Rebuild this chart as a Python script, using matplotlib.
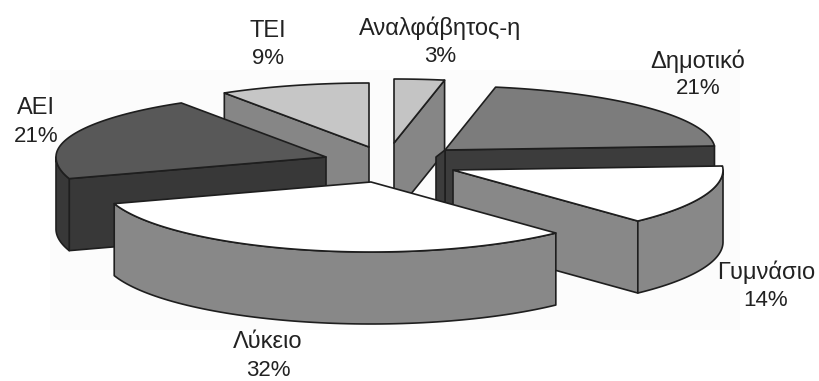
import numpy as np
import matplotlib
matplotlib.use("Agg")
import matplotlib.pyplot as plt
from matplotlib.patches import Rectangle

# Education level shares, clockwise from twelve o'clock
categories = ["Αναλφάβητος-η", "Δημοτικό", "Γυμνάσιο", "Λύκειο", "ΑΕΙ", "ΤΕΙ"]
shares = [3, 21, 14, 32, 21, 9]

# Look of the slices
top_colors = ["#c4c4c4", "#7c7c7c", "#ffffff", "#ffffff", "#585858", "#c6c6c6"]
wall_colors = ["#868686", "#3c3c3c", "#888888", "#888888", "#383838", "#868686"]
explode_dx = [14, 65, 73, -9, -54, -11]
explode_dy = [-17, -10, 10, 22, -3, -13]
draw_order = [5, 0, 4, 1, 2, 3]

# Label anchors: centre of the name line
label_x = [440, 698, 766, 268, 36, 268]
label_y = [28, 61, 272, 342, 108, 31]
LINE_GAP = 28

# Projected pie geometry
CX, CY = 380, 160
RX, RY_BACK, RY_FRONT = 270, 64, 70
WALL = 72
EDGE = "#1e1e1e"

plt.rcParams["font.family"] = ["Liberation Sans", "DejaVu Sans"]
fig = plt.figure(figsize=(8.19, 3.81), dpi=100)
ax = fig.add_axes([0, 0, 1, 1])
ax.set_xlim(0, 819)
ax.set_ylim(381, 0)
ax.axis("off")
ax.add_patch(Rectangle((50, 70), 690, 260, fc="#fcfcfc", ec="none", zorder=0))


def rim(tx, ty, theta):
    theta = np.asarray(theta, dtype=float)
    ry = np.where(np.cos(theta) > 0, RY_BACK, RY_FRONT)
    return tx + RX * np.sin(theta), ty - ry * np.cos(theta)


def face(xs, ys, color, z):
    ax.fill(xs, ys, fc=color, ec=EDGE, lw=1.2, joinstyle="round", zorder=z)


edges = np.radians(np.concatenate([[0], np.cumsum(shares)]) * 3.6)

for rank, i in enumerate(draw_order):
    z = 2 + rank
    start, end = edges[i], edges[i + 1]
    tx, ty = CX + explode_dx[i], CY + explode_dy[i]

    # Cut faces turned towards the viewer
    for theta, visible in ((start, np.sin(start) < -1e-6), (end, np.sin(end) > 1e-6)):
        if visible:
            rx, ry = rim(tx, ty, theta)
            face([tx, rx, rx, tx], [ty, ry, ry + WALL, ty + WALL], wall_colors[i], z)

    # The near cut of the Δημοτικό slice shows as a thin strip beside its tip
    if categories[i] == "Δημοτικό":
        face([tx, tx - 9, tx - 9, tx], [ty, ty + 7, ty + 7 + WALL, ty + WALL], wall_colors[i], z)

    # Curved outer wall for the part of the arc on the near side
    lo, hi = max(start, np.pi / 2), min(end, 3 * np.pi / 2)
    if hi > lo:
        t = np.linspace(lo, hi, 80)
        x, y = rim(tx, ty, t)
        face(np.r_[x, x[::-1]], np.r_[y, y[::-1] + WALL], wall_colors[i], z)

    # Top face
    t = np.linspace(start, end, 120)
    x, y = rim(tx, ty, t)
    face(np.r_[tx, x], np.r_[ty, y], top_colors[i], z)

for name, value, x, y in zip(categories, shares, label_x, label_y):
    ax.text(x, y, name, ha="center", va="center", fontsize=17, color="#222222", zorder=20)
    ax.text(x, y + LINE_GAP, f"{value}%", ha="center", va="center", fontsize=16,
            color="#222222", zorder=20)

fig.savefig("out.png", dpi=100)
